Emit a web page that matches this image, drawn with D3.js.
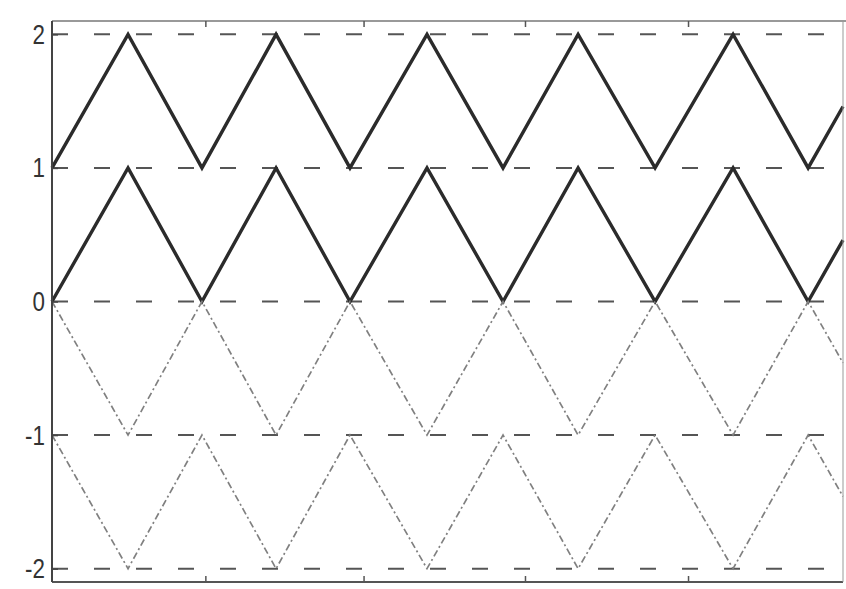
<!DOCTYPE html>
<html>
<head>
<meta charset="utf-8">
<script src="https://cdn.jsdelivr.net/npm/d3@7"></script>
<style>
  html, body { margin: 0; padding: 0; background: #fff; }
  svg { display: block; }
</style>
</head>
<body>
<svg id="chart" width="846" height="589"></svg>
<script>
// ---- data (x in arbitrary time units) ----
const waveX = [0, 0.471, 0.929, 1.388, 1.846, 2.323, 2.794, 3.259, 3.736, 4.219, 4.684, 4.9];
const series1 = [1, 2, 1, 2, 1, 2, 1, 2, 1, 2, 1, 1.46];
const series2 = [0, 1, 0, 1, 0, 1, 0, 1, 0, 1, 0, 0.46];
const series3 = [0, -1, 0, -1, 0, -1, 0, -1, 0, -1, 0, -0.46];
const series4 = [-1, -2, -1, -2, -1, -2, -1, -2, -1, -2, -1, -1.46];
const yTicks = [2, 1, 0, -1, -2];
const yTickLabels = ["2", "1", "0", "-1", "-2"];
const xTicks = [0.95, 1.93, 2.93, 3.94];
const xDomain = [0, 4.9];
const yDomain = [-2.1, 2.1];

// ---- layout ----
const svg = d3.select("#chart");
const mLeft = 52, mRight = 843, mTop = 21, mBottom = 582;

const x = d3.scaleLinear().domain(xDomain).range([mLeft, mRight]);
const y = d3.scaleLinear().domain(yDomain).range([mBottom, mTop]);

// gridlines (dashed)
svg.append("g").selectAll("line").data(yTicks).join("line")
  .attr("x1", mLeft).attr("x2", mRight)
  .attr("y1", d => y(d)).attr("y2", d => y(d))
  .attr("stroke", "#555").attr("stroke-width", 2)
  .attr("stroke-dasharray", "16,26");

// series
const line = d3.line().x((d, i) => x(waveX[i])).y(d => y(d));
const styles = [
  {data: series1, stroke: "#2b2b2b", w: 3.4, dash: null},
  {data: series2, stroke: "#2b2b2b", w: 3.4, dash: null},
  {data: series3, stroke: "#808080", w: 1.7, dash: "7,3,2,3"},
  {data: series4, stroke: "#808080", w: 1.7, dash: "7,3,2,3"}
];
svg.append("g").selectAll("path").data(styles).join("path")
  .attr("d", s => line(s.data))
  .attr("fill", "none")
  .attr("stroke", s => s.stroke)
  .attr("stroke-width", s => s.w)
  .attr("stroke-linejoin", "miter")
  .attr("stroke-dasharray", s => s.dash);

// frame
const frame = svg.append("g");
frame.append("line").attr("x1", mLeft).attr("x2", mRight + 3).attr("y1", mTop).attr("y2", mTop)
  .attr("stroke", "#777").attr("stroke-width", 1.5);
frame.append("line").attr("x1", mLeft).attr("x2", mRight).attr("y1", mBottom).attr("y2", mBottom)
  .attr("stroke", "#555").attr("stroke-width", 2);
frame.append("line").attr("x1", mRight).attr("x2", mRight).attr("y1", mTop).attr("y2", mBottom)
  .attr("stroke", "#999").attr("stroke-width", 1);

// x ticks on top & bottom (inward, no labels)
const xAxisB = d3.axisBottom(x).tickValues(xTicks).tickSize(-6).tickFormat("");
const gxb = svg.append("g").attr("transform", `translate(0,${mBottom})`).call(xAxisB);
gxb.select(".domain").remove();
gxb.selectAll(".tick line").attr("stroke", "#555").attr("stroke-width", 1.5);
const xAxisT = d3.axisTop(x).tickValues(xTicks).tickSize(-6).tickFormat("");
const gxt = svg.append("g").attr("transform", `translate(0,${mTop})`).call(xAxisT);
gxt.select(".domain").remove();
gxt.selectAll(".tick line").attr("stroke", "#555").attr("stroke-width", 1.5);

// y axis
const yAxis = d3.axisLeft(y).tickValues(yTicks).tickSize(-6)
  .tickPadding(7)
  .tickFormat((d, i) => yTickLabels[i]);
const gy = svg.append("g").attr("transform", `translate(${mLeft},0)`).call(yAxis);
gy.select(".domain").attr("d", `M0,${mTop}V${mBottom}`).attr("stroke", "#444").attr("stroke-width", 2);
gy.selectAll(".tick line").attr("stroke", "#444").attr("stroke-width", 1.5);
gy.selectAll(".tick text")
  .attr("font-family", "'Liberation Sans Narrow', 'Liberation Sans', Arial, sans-serif")
  .attr("font-size", 28)
  .attr("fill", "#333")
  .attr("x", -7 / 0.8)
  .attr("transform", "scale(0.8,1)");
</script>
</body>
</html>
